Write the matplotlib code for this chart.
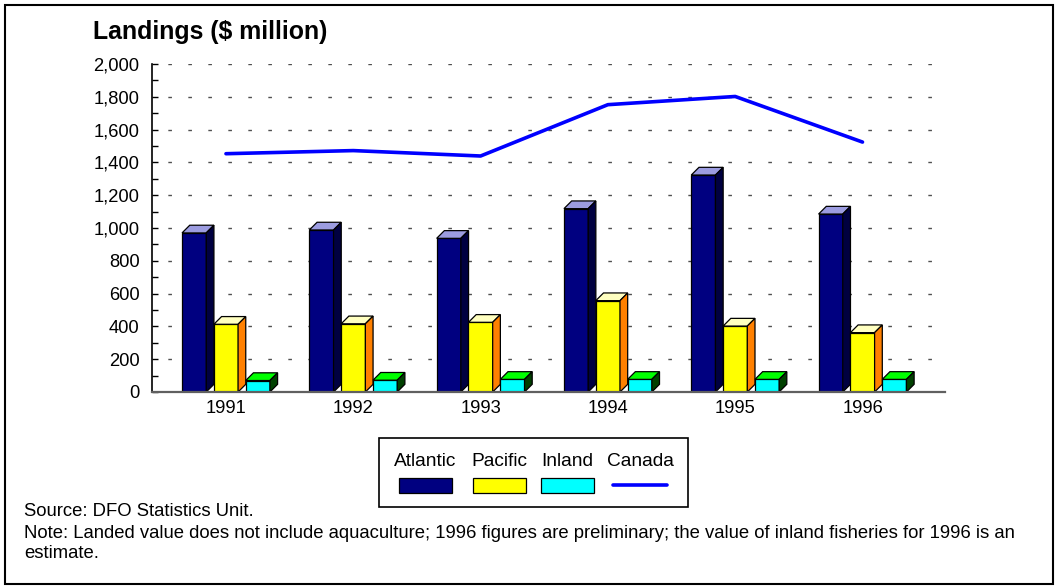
import matplotlib
matplotlib.use("Agg")
import matplotlib.pyplot as plt
from matplotlib.patches import Polygon, Rectangle
from matplotlib.lines import Line2D
from matplotlib.ticker import MultipleLocator, FuncFormatter

# ---------------- data ----------------
years = ["1991", "1992", "1993", "1994", "1995", "1996"]
series_names = ["Atlantic", "Pacific", "Inland"]
atlantic = [970, 988, 937, 1118, 1323, 1085]
pacific = [413, 416, 425, 557, 402, 362]
inland = [70, 72, 77, 77, 77, 77]
canada = [1453, 1472, 1439, 1752, 1802, 1524]
line_name = "Canada"
y_ticks = [0, 200, 400, 600, 800, 1000, 1200, 1400, 1600, 1800, 2000]
title = "Landings ($ million)"
source_text = "Source: DFO Statistics Unit."
note_lines = ["Note: Landed value does not include aquaculture; 1996 figures are preliminary; the value of inland fisheries for 1996 is an",
              "estimate."]

# ---------------- styles ----------------
W, H = 1055, 586
FONT = "Liberation Sans"
plt.rcParams["font.family"] = [FONT, "DejaVu Sans"]

front_cols = ["#000080", "#ffff00", "#00ffff"]
top_cols = ["#9c9ce0", "#ffffc0", "#00ff00"]
side_cols = ["#000040", "#ff8000", "#004000"]
line_col = "#0000ff"

def fx(x):
    return x / W

def fy(y):
    return 1 - y / H

fig = plt.figure(figsize=(W / 100, H / 100), dpi=100)
ax_l, ax_r, ax_t, ax_b = 152, 945, 64, 392
ax = fig.add_axes([fx(ax_l), fy(ax_b), (ax_r - ax_l) / W, (ax_b - ax_t) / H])

xmin, xmax = -0.581, 5.648
ymin, ymax = 0, 2000
ax.set_xlim(xmin, xmax)
ax.set_ylim(ymin, ymax)

# 3D depth in pixels -> data units
depth_px = 7.7
dx = depth_px * (xmax - xmin) / (ax_r - ax_l)
dy = depth_px * (ymax - ymin) / (ax_b - ax_t)

bar_w = 0.19
offsets = [-0.25, 0.0, 0.25]
positions = list(range(len(years)))

for si, vals in enumerate([atlantic, pacific, inland]):
    xs = [p + offsets[si] for p in positions]
    ax.bar(xs, vals, width=bar_w, color=front_cols[si], edgecolor="black",
           linewidth=0.9, zorder=3)
    for x, v in zip(xs, vals):
        l, r = x - bar_w / 2, x + bar_w / 2
        top = Polygon([(l, v), (r, v), (r + dx, v + dy), (l + dx, v + dy)],
                      closed=True, facecolor=top_cols[si], edgecolor="black",
                      linewidth=0.9, zorder=3)
        side = Polygon([(r, 0), (r + dx, dy), (r + dx, v + dy), (r, v)],
                       closed=True, facecolor=side_cols[si], edgecolor="black",
                       linewidth=0.9, zorder=3)
        ax.add_patch(top)
        ax.add_patch(side)

ax.plot(positions, canada, color=line_col, linewidth=2.6, zorder=4,
        solid_capstyle="round", solid_joinstyle="round")

# axes styling
ax.set_yticks(y_ticks)
ax.yaxis.set_major_formatter(FuncFormatter(lambda v, p: f"{v:,.0f}"))
ax.yaxis.set_minor_locator(MultipleLocator(100))
ax.tick_params(axis="y", which="both", direction="in", length=4.5, width=1,
               color="black", labelsize=13.2, pad=9)
ax.set_xticks(positions)
ax.set_xticklabels(years)
ax.tick_params(axis="x", length=0, labelsize=13.2, pad=6)
ax.grid(axis="y", which="major", linestyle=(3, (2.6, 11.8)), color="#505050",
        linewidth=1.0, zorder=1)
ax.set_axisbelow(True)
for s in ["top", "right"]:
    ax.spines[s].set_visible(False)
ax.spines["left"].set_color("black")
ax.spines["left"].set_linewidth(1.2)
ax.spines["bottom"].set_color("#606060")
ax.spines["bottom"].set_linewidth(1.6)
ax.spines["bottom"].set_zorder(5)

# title
fig.text(fx(93), fy(32), title, fontsize=17.9, fontweight="bold",
         ha="left", va="center")

# legend (manual, labels above keys)
leg_box = Rectangle((fx(379), fy(507)), fx(688) - fx(379), fy(438) - fy(507),
                    transform=fig.transFigure, facecolor="white",
                    edgecolor="black", linewidth=1.2)
fig.add_artist(leg_box)
leg_centers = [425, 499, 567, 640]
for i, name in enumerate(series_names):
    cx = leg_centers[i]
    fig.text(fx(cx), fy(462), name, fontsize=13.8, ha="center", va="center")
    fig.add_artist(Rectangle((fx(cx - 26.5), fy(493)), 53 / W, 15 / H,
                             transform=fig.transFigure,
                             facecolor=front_cols[i], edgecolor="black",
                             linewidth=0.9))
cx = leg_centers[3]
fig.text(fx(cx), fy(462), line_name, fontsize=13.8, ha="center", va="center")
fig.add_artist(Line2D([fx(cx - 27), fx(cx + 27)], [fy(485), fy(485)],
                      transform=fig.transFigure, color=line_col, linewidth=2.6,
                      solid_capstyle="round"))

# notes
fig.text(fx(24), fy(512), source_text, fontsize=13.3, ha="left", va="center")
fig.text(fx(24), fy(533), note_lines[0], fontsize=13.3, ha="left", va="center")
fig.text(fx(24), fy(554), note_lines[1], fontsize=13.3, ha="left", va="center")

# outer frame
fig.add_artist(Rectangle((fx(5), fy(584)), fx(1053) - fx(5), fy(5) - fy(584),
                         transform=fig.transFigure, facecolor="none",
                         edgecolor="black", linewidth=1.5))

fig.savefig("out.png", dpi=100)
